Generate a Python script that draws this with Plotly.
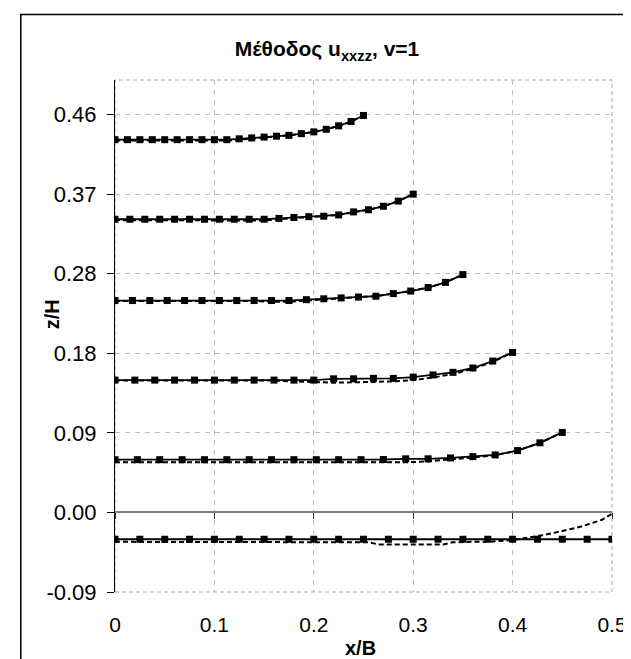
import plotly.graph_objects as go

# profiles: solid line with markers (21 points each) and dotted companion line
x_a = [0.0, 0.0125, 0.025, 0.0375, 0.05, 0.0625, 0.075, 0.0875, 0.1, 0.1125, 0.125,
       0.1375, 0.15, 0.1625, 0.175, 0.1875, 0.2, 0.2125, 0.225, 0.2375, 0.25]
z_a = [0.431, 0.431, 0.431, 0.431, 0.431, 0.431, 0.431, 0.431, 0.431, 0.431, 0.432,
       0.433, 0.434, 0.435, 0.436, 0.438, 0.440, 0.443, 0.447, 0.452, 0.459]
zd_a = [0.430, 0.430, 0.430, 0.430, 0.430, 0.430, 0.430, 0.430, 0.430, 0.430, 0.431,
        0.432, 0.4335, 0.435, 0.436, 0.4375, 0.440, 0.443, 0.447, 0.452, 0.459]

x_b = [0.0, 0.015, 0.03, 0.045, 0.06, 0.075, 0.09, 0.105, 0.12, 0.135, 0.15,
       0.165, 0.18, 0.195, 0.21, 0.225, 0.24, 0.255, 0.27, 0.285, 0.30]
z_b = [0.339, 0.339, 0.339, 0.339, 0.339, 0.339, 0.339, 0.339, 0.339, 0.339, 0.339,
       0.340, 0.341, 0.342, 0.3425, 0.344, 0.3475, 0.350, 0.354, 0.360, 0.368]
zd_b = [0.338, 0.338, 0.338, 0.338, 0.338, 0.338, 0.338, 0.338, 0.338, 0.338, 0.3375,
        0.339, 0.3405, 0.3415, 0.3425, 0.344, 0.347, 0.350, 0.354, 0.360, 0.368]

x_c = [0.0, 0.0175, 0.035, 0.0525, 0.07, 0.0875, 0.105, 0.1225, 0.14, 0.1575, 0.175,
       0.1925, 0.21, 0.2275, 0.245, 0.2625, 0.28, 0.2975, 0.315, 0.3325, 0.35]
z_c = [0.245, 0.245, 0.245, 0.245, 0.245, 0.245, 0.245, 0.245, 0.245, 0.245, 0.245,
       0.246, 0.247, 0.248, 0.249, 0.250, 0.253, 0.256, 0.260, 0.266, 0.275]
zd_c = [0.2445, 0.2445, 0.2445, 0.2445, 0.2445, 0.2445, 0.2445, 0.2445, 0.2445, 0.2435, 0.2435,
        0.245, 0.246, 0.2475, 0.249, 0.250, 0.253, 0.256, 0.260, 0.266, 0.275]

x_d = [0.0, 0.02, 0.04, 0.06, 0.08, 0.10, 0.12, 0.14, 0.16, 0.18, 0.20,
       0.22, 0.24, 0.26, 0.28, 0.30, 0.32, 0.34, 0.36, 0.38, 0.40]
z_d = [0.153, 0.153, 0.153, 0.153, 0.153, 0.153, 0.153, 0.153, 0.153, 0.153, 0.153,
       0.1545, 0.1545, 0.155, 0.155, 0.1565, 0.159, 0.162, 0.167, 0.175, 0.185]
zd_d = [0.1525, 0.1525, 0.1525, 0.1525, 0.1525, 0.1525, 0.1525, 0.1525, 0.1525, 0.1515, 0.151,
        0.150, 0.1505, 0.151, 0.1515, 0.153, 0.156, 0.160, 0.166, 0.174, 0.185]

x_e = [0.0, 0.0225, 0.045, 0.0675, 0.09, 0.1125, 0.135, 0.1575, 0.18, 0.2025, 0.225,
       0.2475, 0.27, 0.2925, 0.315, 0.3375, 0.36, 0.3825, 0.405, 0.4275, 0.45]
z_e = [0.061, 0.061, 0.061, 0.061, 0.061, 0.061, 0.061, 0.061, 0.061, 0.061, 0.061,
       0.061, 0.0612, 0.062, 0.062, 0.063, 0.0645, 0.0665, 0.0715, 0.0805, 0.0925]
zd_e = [0.058, 0.058, 0.058, 0.058, 0.058, 0.058, 0.058, 0.058, 0.058, 0.058, 0.058,
        0.058, 0.058, 0.058, 0.059, 0.0615, 0.0635, 0.066, 0.0715, 0.0805, 0.0925]

x_f = [0.0, 0.025, 0.05, 0.075, 0.10, 0.125, 0.15, 0.175, 0.20, 0.225, 0.25,
       0.275, 0.30, 0.325, 0.35, 0.375, 0.40, 0.425, 0.45, 0.475, 0.50]
z_f = [-0.031, -0.031, -0.031, -0.031, -0.031, -0.031, -0.031, -0.031, -0.031, -0.031, -0.031,
       -0.031, -0.031, -0.031, -0.031, -0.031, -0.031, -0.031, -0.031, -0.031, -0.031]
xd_f = [0.0, 0.15, 0.16, 0.255, 0.265, 0.33, 0.34, 0.38, 0.40, 0.43, 0.45, 0.47, 0.49, 0.50]
zd_f = [-0.034, -0.034, -0.0345, -0.0345, -0.037, -0.037, -0.0345, -0.0335, -0.032,
        -0.0265, -0.0215, -0.016, -0.0085, -0.0015]

x_ticks = [0.0, 0.1, 0.2, 0.3, 0.4, 0.5]
x_labels = ["0", "0.1", "0.2", "0.3", "0.4", "0.5"]
y_ticks = [-0.092, 0.0, 0.092, 0.184, 0.276, 0.368, 0.46]
y_labels = ["-0.09", "0.00", "0.09", "0.18", "0.28", "0.37", "0.46"]

FONT = "Liberation Sans, Arial, sans-serif"

fig = go.Figure()

dotted = [(x_a, zd_a), (x_b, zd_b), (x_c, zd_c), (x_d, zd_d), (x_e, zd_e), (xd_f, zd_f)]
solid = [(x_a, z_a), (x_b, z_b), (x_c, z_c), (x_d, z_d), (x_e, z_e), (x_f, z_f)]

for xs, zs in dotted:
    fig.add_trace(go.Scatter(x=xs, y=zs, mode="lines", showlegend=False,
                             line=dict(color="black", width=2, dash="5px,3px")))
for i, (xs, zs) in enumerate(solid):
    # bottom profile sits on the overlay axis that draws the z=0 line
    fig.add_trace(go.Scatter(x=xs, y=zs, mode="lines+markers", showlegend=False,
                             xaxis="x2" if i == 5 else "x",
                             line=dict(color="black", width=1.8),
                             marker=dict(symbol="square", size=7, color="black")))

fig.update_layout(
    width=631, height=659,
    margin=dict(l=107, r=12, t=72, b=75),
    paper_bgcolor="white", plot_bgcolor="white",
    font=dict(family=FONT, color="black"),
    title=dict(text="Μέθοδος u<sub>xxzz</sub>, v=1", x=0.5055, xanchor="center",
               xref="container", y=0.938, yanchor="middle",
               font=dict(size=21, weight="bold", family=FONT)),
    xaxis=dict(range=[0, 0.5], tickvals=x_ticks, ticktext=x_labels,
               showgrid=True, gridcolor="#c0c0c0", griddash="5px,5px", gridwidth=1,
               zeroline=False, showline=False, ticks="", ticklabeloverflow="allow",
               tickfont=dict(size=21), ticklabelstandoff=18),
    xaxis2=dict(range=[0, 0.5], overlaying="x", anchor="free", position=0.092 / 0.592,
                tickvals=x_ticks, showticklabels=False, showgrid=False, zeroline=False,
                showline=True, linecolor="#808080", linewidth=2,
                ticks="outside", ticklen=6, tickcolor="#303030", tickwidth=1),
    yaxis=dict(range=[-0.092, 0.5], tickvals=y_ticks, ticktext=y_labels,
               showgrid=True, gridcolor="#c0c0c0", griddash="5px,5px", gridwidth=1,
               zeroline=False, showline=True, linecolor="black", linewidth=1,
               ticks="outside", ticklen=7, tickcolor="black",
               tickfont=dict(size=22), ticklabelstandoff=6),
    shapes=[
        dict(type="rect", xref="paper", yref="paper", x0=0, x1=1, y0=0, y1=1,
             line=dict(color="#a8a8a8", width=1, dash="4px,3px"), layer="below"),
        dict(type="rect", xref="paper", yref="paper", x0=-0.1895, x1=1.3, y0=-0.3, y1=1.128,
             line=dict(color="black", width=1.5)),
    ],
    annotations=[
        dict(text="<b>z/H</b>", textangle=-90, xref="paper", yref="paper",
             x=-0.154, y=0.5435, showarrow=False, font=dict(size=20)),
        dict(text="<b>x/B</b>", xref="paper", yref="paper",
             x=0.494, y=-0.1095, yanchor="middle", showarrow=False, font=dict(size=20)),
    ],
)

fig.write_html("out.html")
